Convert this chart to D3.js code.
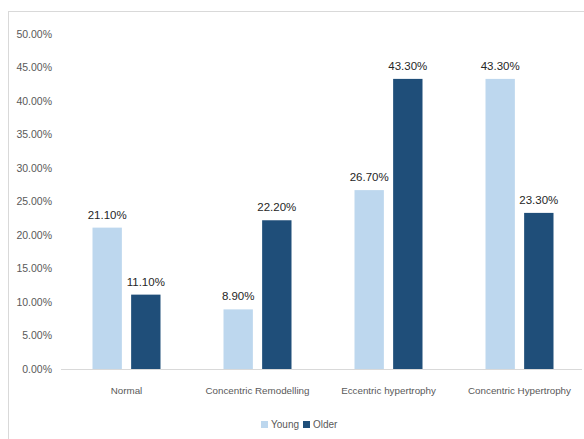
<!DOCTYPE html>
<html>
<head>
<meta charset="utf-8">
<script src="https://cdnjs.cloudflare.com/ajax/libs/d3/7.8.5/d3.min.js"></script>
<style>
  body { margin: 0; background: #fff; }
  text { font-family: "Liberation Sans", Arial, sans-serif; }
</style>
</head>
<body>
<svg id="chart" width="584" height="439"></svg>
<script>
var categories = ['Normal', 'Concentric Remodelling', 'Eccentric hypertrophy', 'Concentric Hypertrophy'];
var seriesNames = ['Young', 'Older'];
var young = [21.1, 8.9, 26.7, 43.3];
var older = [11.1, 22.2, 43.3, 23.3];
var yTicks = [0, 5, 10, 15, 20, 25, 30, 35, 40, 45, 50];
var colors = ['#bdd7ee', '#1f4e79'];

var svg = d3.select('#chart');

// chart frame
svg.append('rect')
  .attr('x', 8.5).attr('y', 11.5)
  .attr('width', 590).attr('height', 440)
  .attr('fill', 'none').attr('stroke', '#d9d9d9');

var plotLeft = 61, plotRight = 585, plotTop = 34, plotBottom = 369;

var x0 = d3.scaleBand().domain(categories).range([plotLeft, plotRight]).paddingInner(0).paddingOuter(0);
var x1 = d3.scaleBand().domain(seriesNames).range([x0.bandwidth() / 2 - 34, x0.bandwidth() / 2 + 34]).paddingInner(0.24);
var y = d3.scaleLinear().domain([0, 50]).range([plotBottom, plotTop]);

// y tick labels
svg.append('g').selectAll('text')
  .data(yTicks).enter().append('text')
  .attr('x', 52)
  .attr('y', function (d) { return y(d); })
  .attr('dy', '0.35em')
  .attr('text-anchor', 'end')
  .attr('font-size', 10.5)
  .attr('fill', '#595959')
  .text(function (d) { return d.toFixed(2) + '%'; });

// baseline
svg.append('line')
  .attr('x1', plotLeft).attr('x2', plotRight - 3)
  .attr('y1', y(0) + 0.5).attr('y2', y(0) + 0.5)
  .attr('stroke', '#d9d9d9');

var rows = categories.map(function (c, i) {
  return {cat: c, vals: [{s: 'Young', v: young[i]}, {s: 'Older', v: older[i]}]};
});

var groups = svg.append('g').selectAll('g')
  .data(rows).enter().append('g')
  .attr('transform', function (d) { return 'translate(' + x0(d.cat) + ',0)'; });

groups.selectAll('rect')
  .data(function (d) { return d.vals; }).enter().append('rect')
  .attr('x', function (d) { return x1(d.s); })
  .attr('width', x1.bandwidth())
  .attr('y', function (d) { return y(d.v); })
  .attr('height', function (d) { return y(0) - y(d.v); })
  .attr('fill', function (d, i) { return colors[i]; });

groups.selectAll('text.val')
  .data(function (d) { return d.vals; }).enter().append('text')
  .attr('class', 'val')
  .attr('x', function (d) { return x1(d.s) + x1.bandwidth() / 2; })
  .attr('y', function (d) { return y(d.v) - 9; })
  .attr('text-anchor', 'middle')
  .attr('font-size', 11.5)
  .attr('fill', '#262626')
  .text(function (d) { return d.v.toFixed(2) + '%'; });

// category labels
svg.append('g').selectAll('text')
  .data(categories).enter().append('text')
  .attr('x', function (d) { return x0(d) + x0.bandwidth() / 2; })
  .attr('y', 394)
  .attr('text-anchor', 'middle')
  .attr('font-size', 9.8)
  .attr('fill', '#595959')
  .text(function (d) { return d; });

// legend
var legend = svg.append('g');
var legendX = [261, 303];
seriesNames.forEach(function (s, i) {
  legend.append('rect')
    .attr('x', legendX[i]).attr('y', 421)
    .attr('width', 7).attr('height', 7)
    .attr('fill', colors[i]);
  legend.append('text')
    .attr('x', legendX[i] + 10).attr('y', 428)
    .attr('font-size', 10)
    .attr('fill', '#595959')
    .text(s);
});
</script>
</body>
</html>
